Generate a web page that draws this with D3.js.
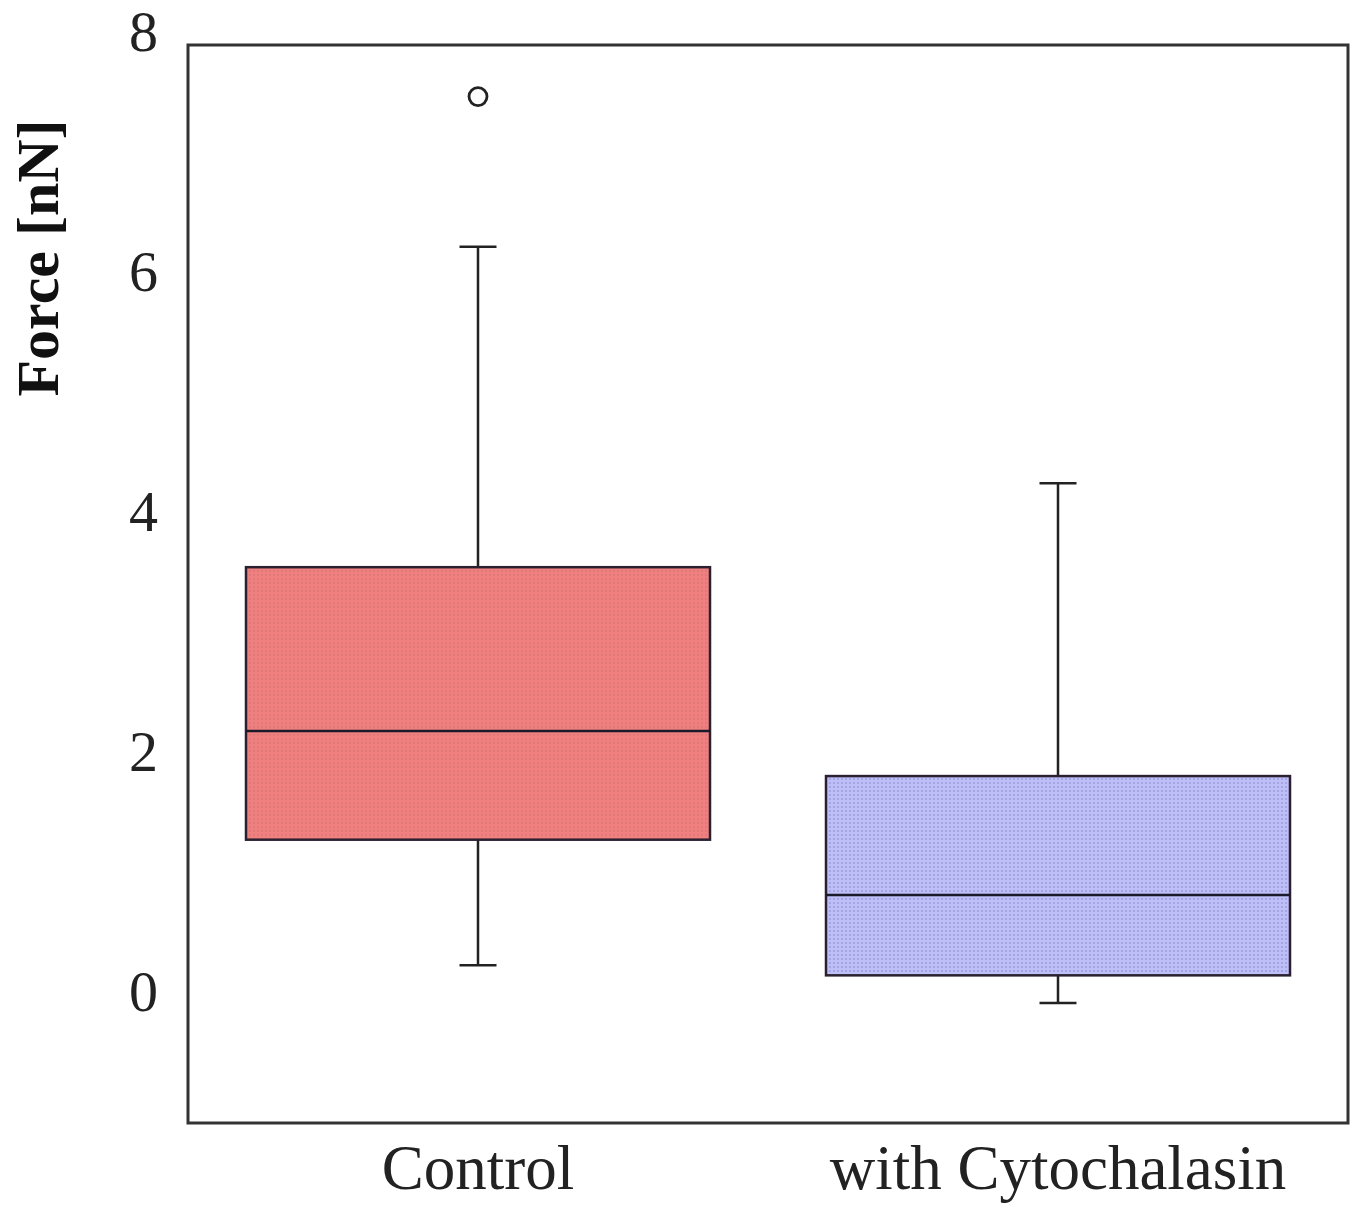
<!DOCTYPE html>
<html>
<head>
<meta charset="utf-8">
<script src="https://cdn.jsdelivr.net/npm/d3@7"></script>
<style>
  body { margin: 0; background: #fff; }
  svg { display: block; }
</style>
</head>
<body>
<svg id="chart" width="1358" height="1209"></svg>
<script>
// Data
const groups = ["Control", "with Cytochalasin"];
const whiskerLow = [0.225, -0.09];
const q1 = [1.27, 0.14];
const median = [2.175, 0.81];
const q3 = [3.54, 1.8];
const whiskerHigh = [6.21, 4.24];
const outliers = [[7.46], []];
const yTicks = [0, 2, 4, 6, 8];

const WIDTH = 1358;
const HEIGHT = 1209;
const MARGIN = { top: 45, right: 10, bottom: 86, left: 188 };
const FONT = "'Liberation Serif', 'DejaVu Serif', serif";
const FONT_SIZE = 58;
const BOX_FRAC = 0.8;
const CAP_WIDTH = 37;
const fills = ["#f07f7f", "#bebef8"];
const dots = ["#b86464", "#5c5c9e"];

const svg = d3.select("#chart");
const width = WIDTH - MARGIN.left - MARGIN.right;
const height = HEIGHT - MARGIN.top - MARGIN.bottom;

const x = d3.scaleBand().domain(groups).range([0, width]).padding(0);
const y = d3.scaleLinear().domain([-1.09, 7.89]).range([height, 0]);

// Dot patterns for the box fills
const defs = svg.append("defs");
groups.forEach((g, i) => {
  const p = defs.append("pattern")
    .attr("id", "pat" + i)
    .attr("patternUnits", "userSpaceOnUse")
    .attr("width", 4)
    .attr("height", 4);
  p.append("rect").attr("width", 4).attr("height", 4).attr("fill", fills[i]);
  p.append("circle").attr("cx", 2).attr("cy", 2).attr("r", 0.8)
    .attr("fill", dots[i]).attr("opacity", 0.6);
});

const chart = svg.append("g")
  .attr("transform", `translate(${MARGIN.left}, ${MARGIN.top})`);

// Y axis (labels only, no ticks)
const yAxis = d3.axisLeft(y).tickValues(yTicks).tickSize(0).tickPadding(30)
  .tickFormat(d3.format("d"));
const ya = chart.append("g").call(yAxis);
ya.select(".domain").remove();
ya.selectAll("text")
  .attr("font-family", FONT)
  .attr("font-size", FONT_SIZE)
  .attr("fill", "#222");

// X axis labels
const xAxis = d3.axisBottom(x).tickSize(0).tickPadding(21);
const xa = chart.append("g").attr("transform", `translate(0, ${height})`).call(xAxis);
xa.select(".domain").remove();
xa.selectAll("text")
  .attr("font-family", FONT)
  .attr("font-size", 63)
  .attr("fill", "#222");

// Y title
svg.append("text")
  .attr("transform", `translate(58, ${258}) rotate(-90)`)
  .attr("text-anchor", "middle")
  .attr("font-family", FONT)
  .attr("font-weight", "bold")
  .attr("font-size", 60)
  .attr("fill", "#111")
  .text("Force [nN]");

// Boxes
const bw = x.bandwidth() * BOX_FRAC;
const box = chart.selectAll(".box").data(groups).enter().append("g").attr("class", "box");

box.append("line")
  .attr("x1", d => x(d) + x.bandwidth() / 2)
  .attr("x2", d => x(d) + x.bandwidth() / 2)
  .attr("y1", (d, i) => y(whiskerLow[i]))
  .attr("y2", (d, i) => y(whiskerHigh[i]))
  .attr("stroke", "#222").attr("stroke-width", 2.5);

[whiskerLow, whiskerHigh].forEach(arr => {
  box.append("line")
    .attr("x1", d => x(d) + x.bandwidth() / 2 - CAP_WIDTH / 2)
    .attr("x2", d => x(d) + x.bandwidth() / 2 + CAP_WIDTH / 2)
    .attr("y1", (d, i) => y(arr[i]))
    .attr("y2", (d, i) => y(arr[i]))
    .attr("stroke", "#222").attr("stroke-width", 2.5);
});

box.append("rect")
  .attr("x", d => x(d) + (x.bandwidth() - bw) / 2)
  .attr("width", bw)
  .attr("y", (d, i) => y(q3[i]))
  .attr("height", (d, i) => y(q1[i]) - y(q3[i]))
  .attr("fill", (d, i) => `url(#pat${i})`)
  .attr("stroke", "#2a2030").attr("stroke-width", 2.5);

box.append("line")
  .attr("x1", d => x(d) + (x.bandwidth() - bw) / 2)
  .attr("x2", d => x(d) + (x.bandwidth() + bw) / 2)
  .attr("y1", (d, i) => y(median[i]))
  .attr("y2", (d, i) => y(median[i]))
  .attr("stroke", "#1a1a2a").attr("stroke-width", 2.5);

// Outliers
groups.forEach((g, i) => {
  chart.selectAll(".out" + i).data(outliers[i]).enter().append("circle")
    .attr("cx", x(g) + x.bandwidth() / 2)
    .attr("cy", d => y(d))
    .attr("r", 9)
    .attr("fill", "#fff")
    .attr("stroke", "#222")
    .attr("stroke-width", 2.8);
});

// Frame
chart.append("rect")
  .attr("width", width).attr("height", height)
  .attr("fill", "none")
  .attr("stroke", "#333").attr("stroke-width", 3);
</script>
</body>
</html>
